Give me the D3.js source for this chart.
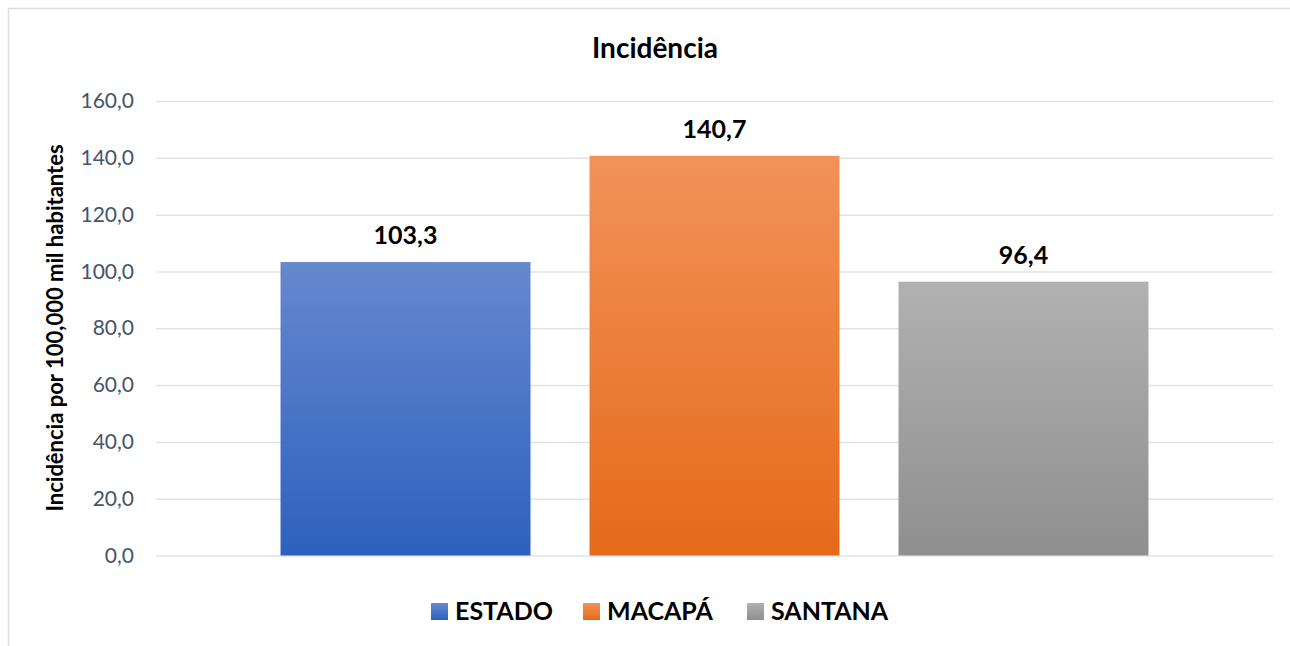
<!DOCTYPE html>
<html lang="pt">
<head>
    <meta charset="UTF-8">
    <title>Incidência</title>
    <script src="https://cdn.jsdelivr.net/npm/d3@7"></script>
    <style>
        body { margin: 0; background: #fff; }
        text { font-family: Lato, "Noto Sans", sans-serif; }
        .tick text { fill: #44546a; font-size: 21px; }
        .grid line { stroke: #dfe3e8; stroke-width: 1.5px; }
        .grid path { display: none; }
    </style>
</head>
<body>
<div id="chart"></div>
<script>
    // dados
    var series = ["ESTADO", "MACAPÁ", "SANTANA"];
    var values = [103.3, 140.7, 96.4];
    var yTicks = [0, 20, 40, 60, 80, 100, 120, 140, 160];
    // cores do gradiente (topo, base)
    var colorTop = ["#6688cf", "#f29259", "#b1b1b1"];
    var colorBottom = ["#2d61be", "#e56a19", "#8f8f8f"];

    var width = 1290, height = 646;
    var fmt = function (v) { return v.toFixed(1).replace(".", ","); };

    var svg = d3.select("#chart").append("svg")
        .attr("width", width)
        .attr("height", height);

    // moldura do gráfico
    svg.append("rect")
        .attr("x", 8.5).attr("y", 8.5)
        .attr("width", 1320).attr("height", 700)
        .attr("fill", "#fff")
        .attr("stroke", "#d9dde3")
        .attr("stroke-width", 1.5);

    var defs = svg.append("defs");
    series.forEach(function (s, i) {
        var g = defs.append("linearGradient")
            .attr("id", "grad" + i)
            .attr("x1", 0).attr("y1", 0).attr("x2", 0).attr("y2", 1);
        g.append("stop").attr("offset", "0%").attr("stop-color", colorTop[i]);
        g.append("stop").attr("offset", "100%").attr("stop-color", colorBottom[i]);
    });

    var plotLeft = 156, plotRight = 1273;
    var y = d3.scaleLinear().domain([0, 160]).range([555.5, 101]);
    var x = d3.scaleBand()
        .domain(series)
        .range([plotLeft, plotRight])
        .paddingInner(0.191)
        .paddingOuter(0.403);

    // linhas de grade + rótulos
    svg.append("g")
        .attr("class", "grid")
        .attr("transform", "translate(" + plotLeft + ",0)")
        .call(d3.axisLeft(y)
            .tickValues(yTicks)
            .tickSize(-(plotRight - plotLeft))
            .tickPadding(22)
            .tickFormat(fmt));

    // barras
    svg.append("g").selectAll("rect")
        .data(values)
        .enter()
        .append("rect")
        .attr("x", function (d, i) { return x(series[i]); })
        .attr("y", function (d) { return y(d); })
        .attr("width", x.bandwidth())
        .attr("height", function (d) { return y(0) - y(d); })
        .attr("fill", function (d, i) { return "url(#grad" + i + ")"; });

    // rótulos de dados
    svg.append("g").selectAll("text")
        .data(values)
        .enter()
        .append("text")
        .attr("x", function (d, i) { return x(series[i]) + x.bandwidth() / 2; })
        .attr("y", function (d) { return y(d) - 18; })
        .attr("text-anchor", "middle")
        .attr("font-size", "25px")
        .attr("font-weight", "bold")
        .attr("fill", "#000")
        .text(fmt);

    // título
    svg.append("text")
        .attr("x", 655).attr("y", 58)
        .attr("text-anchor", "middle")
        .attr("font-size", "28px")
        .attr("font-weight", "bold")
        .text("Incidência");

    // título do eixo Y
    svg.append("text")
        .attr("transform", "translate(63,328) rotate(-90)")
        .attr("text-anchor", "middle")
        .attr("font-size", "22px")
        .attr("font-weight", "bold")
        .text("Incidência por 100,000 mil habitantes");

    // legenda
    var legendX = [431, 583, 747];
    var legend = svg.append("g").selectAll("g")
        .data(series)
        .enter()
        .append("g")
        .attr("transform", function (d, i) { return "translate(" + legendX[i] + ",603)"; });
    legend.append("rect")
        .attr("width", 17).attr("height", 17)
        .attr("fill", function (d, i) { return "url(#grad" + i + ")"; });
    legend.append("text")
        .attr("x", 24).attr("y", 17)
        .attr("font-size", "25px")
        .attr("font-weight", "bold")
        .text(function (d) { return d; });
</script>
</body>
</html>
